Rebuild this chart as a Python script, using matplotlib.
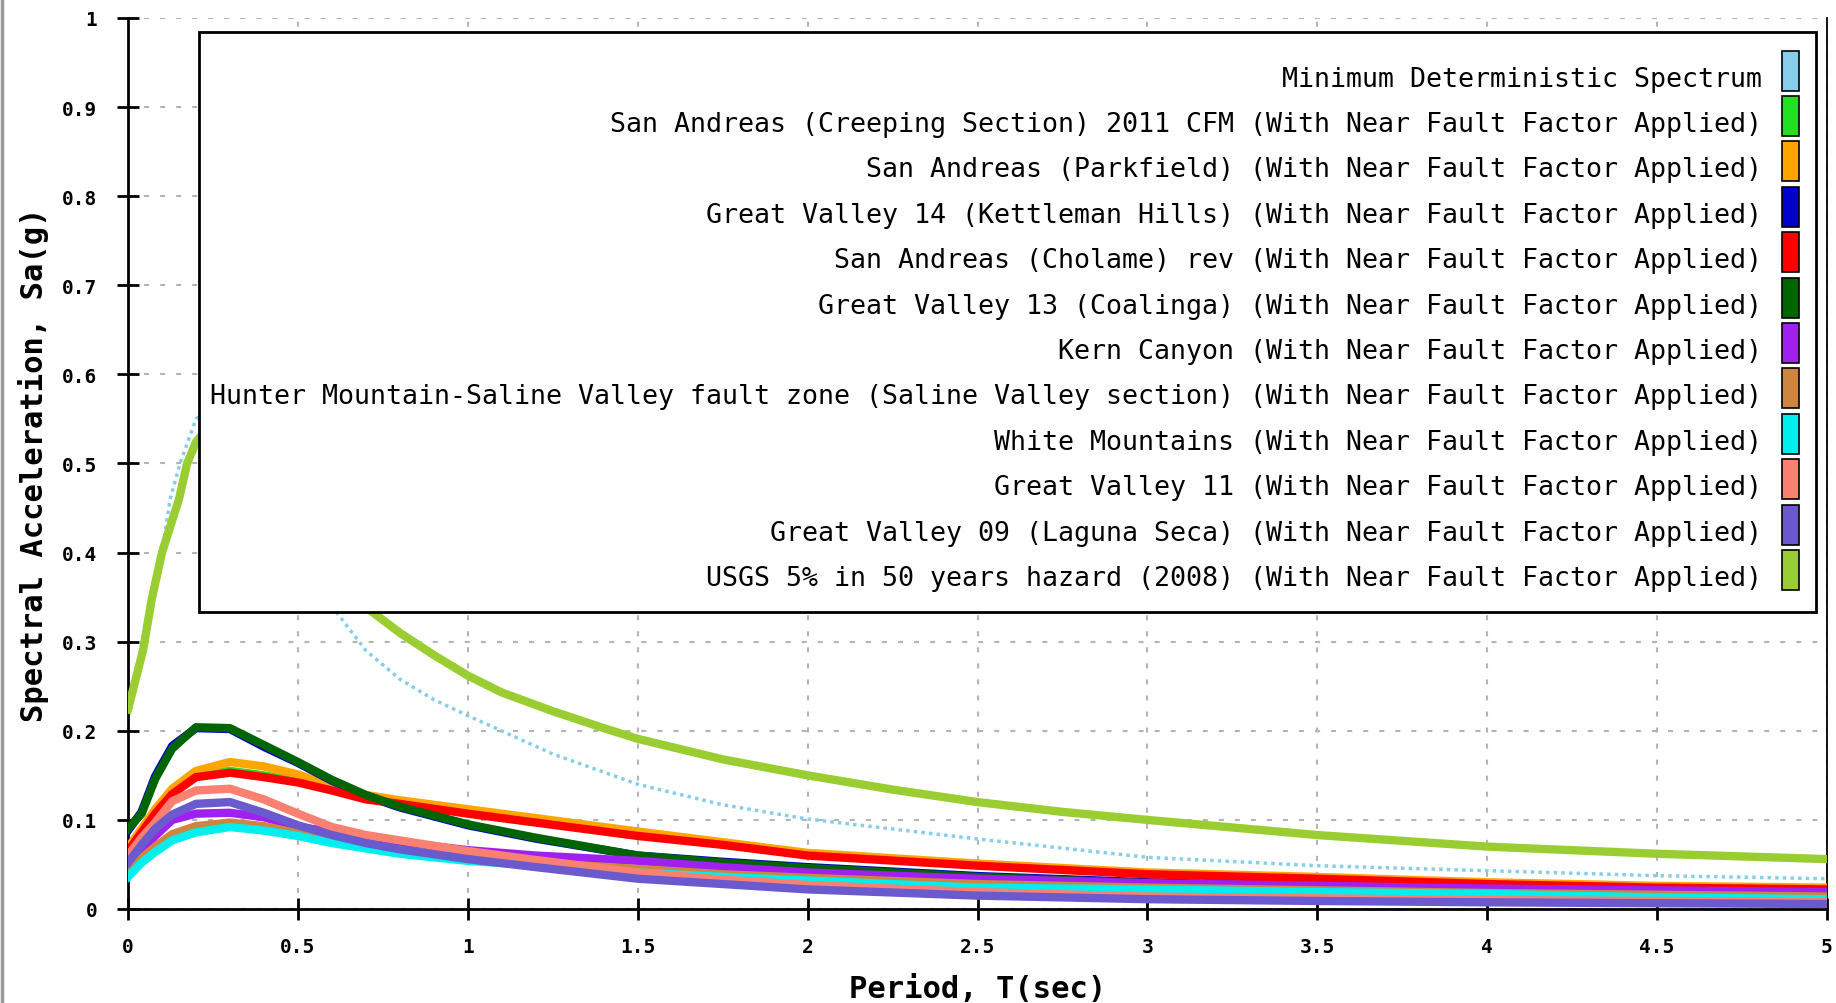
import matplotlib
matplotlib.use('Agg')
import matplotlib.pyplot as plt
from matplotlib.patches import Rectangle
from matplotlib.lines import Line2D
from matplotlib.ticker import FuncFormatter, MultipleLocator

MONO = 'DejaVu Sans Mono'

# legend entries, in drawing order
labels = [
  'Minimum Deterministic Spectrum',
  'San Andreas (Creeping Section) 2011 CFM (With Near Fault Factor Applied)',
  'San Andreas (Parkfield) (With Near Fault Factor Applied)',
  'Great Valley 14 (Kettleman Hills) (With Near Fault Factor Applied)',
  'San Andreas (Cholame) rev (With Near Fault Factor Applied)',
  'Great Valley 13 (Coalinga) (With Near Fault Factor Applied)',
  'Kern Canyon (With Near Fault Factor Applied)',
  'Hunter Mountain-Saline Valley fault zone (Saline Valley section) (With Near Fault Factor Applied)',
  'White Mountains (With Near Fault Factor Applied)',
  'Great Valley 11 (With Near Fault Factor Applied)',
  'Great Valley 09 (Laguna Seca) (With Near Fault Factor Applied)',
  'USGS 5% in 50 years hazard (2008) (With Near Fault Factor Applied)',
]
colors = ['#87CEEB', '#22E022', '#FFA500', '#0000CD', '#FF0000', '#006400',
          '#A020F0', '#CD853F', '#00EEEE', '#FA8072', '#6A5ACD', '#9ACD32']

# minimum deterministic spectrum
mds_period = [0, 0.05, 0.1, 0.124, 0.153, 0.2, 0.3, 0.37, 0.45, 0.53, 0.61,
              0.7, 0.8, 0.9, 1.0, 1.25, 1.5, 1.75, 2.0, 2.5, 3.0, 3.5, 4.0,
              4.5, 5.0]
mds_sa = [0.225, 0.30, 0.40, 0.46, 0.50, 0.55, 0.58, 0.55, 0.45, 0.385, 0.335,
          0.29, 0.258, 0.235, 0.217, 0.174, 0.14, 0.117, 0.101, 0.0786, 0.058,
          0.0486, 0.043, 0.0374, 0.034]

# usgs probabilistic spectrum
usgs_period = [0, 0.044, 0.07, 0.1, 0.15, 0.174, 0.2, 0.3, 0.4, 0.5, 0.6, 0.713,
               0.8, 0.9, 1.0, 1.1, 1.25, 1.4, 1.5, 1.75, 2.0, 2.25, 2.5, 2.75,
               3.0, 3.5, 4.0, 4.5, 5.0]
usgs_sa = [0.224, 0.29, 0.348, 0.40, 0.46, 0.50, 0.524, 0.57, 0.54, 0.46, 0.39,
           0.335, 0.31, 0.285, 0.262, 0.243, 0.222, 0.203, 0.191, 0.168, 0.15,
           0.134, 0.12, 0.109, 0.10, 0.083, 0.07, 0.062, 0.056]

# deterministic fault spectra
period = [0, 0.04, 0.08, 0.13, 0.2, 0.3, 0.4, 0.5, 0.6, 0.7, 0.8, 1.0, 1.2,
          1.5, 1.75, 2.0, 2.5, 3.0, 3.5, 4.0, 4.5, 5.0]
creeping = [0.066, 0.087, 0.108, 0.130, 0.150, 0.155, 0.150, 0.144, 0.135,
            0.125, 0.120, 0.109, 0.099, 0.084, 0.074, 0.062, 0.050, 0.040,
            0.035, 0.029, 0.025, 0.023]
parkfield = [0.069, 0.090, 0.112, 0.135, 0.155, 0.165, 0.160, 0.151, 0.138,
             0.128, 0.122, 0.112, 0.102, 0.087, 0.075, 0.063, 0.051, 0.041,
             0.036, 0.030, 0.026, 0.024]
gv14 = [0.088, 0.109, 0.149, 0.183, 0.203, 0.202, 0.182, 0.164, 0.144, 0.127,
        0.114, 0.094, 0.079, 0.060, 0.053, 0.047, 0.037, 0.030, 0.025, 0.022,
        0.019, 0.017]
cholame = [0.065, 0.086, 0.107, 0.129, 0.148, 0.153, 0.148, 0.142, 0.133,
           0.123, 0.118, 0.107, 0.097, 0.082, 0.072, 0.060, 0.0486, 0.039,
           0.034, 0.028, 0.024, 0.022]
gv13 = [0.090, 0.107, 0.146, 0.180, 0.204, 0.203, 0.184, 0.165, 0.145, 0.128,
        0.115, 0.095, 0.080, 0.060, 0.052, 0.046, 0.036, 0.029, 0.024, 0.021,
        0.018, 0.016]
kern = [0.045, 0.064, 0.082, 0.100, 0.107, 0.108, 0.103, 0.092, 0.087, 0.081,
        0.075, 0.066, 0.060, 0.054, 0.047, 0.041, 0.034, 0.029, 0.026, 0.023,
        0.021, 0.019]
hunter = [0.040, 0.057, 0.070, 0.084, 0.093, 0.097, 0.093, 0.085, 0.078, 0.071,
          0.066, 0.058, 0.052, 0.045, 0.039, 0.035, 0.028, 0.024, 0.021, 0.018,
          0.016, 0.014]
white_mtns = [0.036, 0.052, 0.064, 0.077, 0.086, 0.092, 0.088, 0.082, 0.074,
              0.068, 0.062, 0.054, 0.049, 0.041, 0.036, 0.032, 0.024, 0.022,
              0.019, 0.017, 0.013, 0.011]
gv11 = [0.060, 0.080, 0.097, 0.121, 0.133, 0.135, 0.123, 0.107, 0.092, 0.083,
        0.077, 0.065, 0.055, 0.041, 0.033, 0.027, 0.019, 0.014, 0.012, 0.010,
        0.009, 0.008]
gv09 = [0.052, 0.072, 0.090, 0.106, 0.118, 0.120, 0.108, 0.094, 0.083, 0.074,
        0.067, 0.056, 0.047, 0.034, 0.028, 0.022, 0.015, 0.011, 0.009, 0.0075,
        0.0065, 0.0056]

fault_curves = [creeping, parkfield, gv14, cholame, gv13, kern, hunter,
                white_mtns, gv11, gv09]

W, H = 1836, 1004
fig = plt.figure(figsize=(W / 100, H / 100), dpi=100)
ax = fig.add_axes([128 / W, 1 - 910 / H, 1699 / W, 891 / H])

# curves
ax.plot(mds_period, mds_sa, color=colors[0], linewidth=2.5,
        linestyle=(0, (1, 1.2)), zorder=3)
for vals, col in zip(fault_curves, colors[1:11]):
  ax.plot(period, vals, color=col, linewidth=6, zorder=3)
ax.plot(usgs_period, usgs_sa, color=colors[11], linewidth=6, zorder=3)

ax.set_xlim(0, 5)
ax.set_ylim(0, 1)
ax.xaxis.set_major_locator(MultipleLocator(0.5))
ax.yaxis.set_major_locator(MultipleLocator(0.1))
fmt = FuncFormatter(lambda v, p: '%g' % round(v, 2))
ax.xaxis.set_major_formatter(fmt)
ax.yaxis.set_major_formatter(fmt)

ax.grid(True, color='#b4b4b4', linestyle=(0, (2.4, 5.3)), linewidth=1.5, zorder=1)
ax.set_axisbelow(True)

ax.spines['top'].set_visible(False)
ax.spines['left'].set_linewidth(2)
ax.spines['bottom'].set_linewidth(2)
ax.spines['right'].set_linewidth(1.3)
ax.tick_params(direction='inout', length=16, width=2, colors='black')
ax.tick_params(axis='y', pad=14)
ax.tick_params(axis='x', pad=12)
for lab in ax.get_xticklabels() + ax.get_yticklabels():
  lab.set_fontfamily(MONO)
  lab.set_fontweight('bold')
  lab.set_fontsize(14)

ax.set_xlabel('Period, T(sec)', fontfamily=MONO, fontweight='bold', fontsize=22)
ax.set_ylabel('Spectral Acceleration, Sa(g)', fontfamily=MONO,
              fontweight='bold', fontsize=22)
ax.xaxis.label.set_va('center')
ax.yaxis.label.set_va('center')
ax.xaxis.set_label_coords(0.5, (910 - 990) / 891)
ax.yaxis.set_label_coords((34 - 128) / 1699, 0.5)

# legend box, drawn by hand so the labels sit right-aligned before the swatches
ax.add_patch(Rectangle((0.0418, 0.3333), 0.9935 - 0.0418, 0.9843 - 0.3333,
                       transform=ax.transAxes, facecolor='white',
                       edgecolor='black', linewidth=2, zorder=10, clip_on=False))
row0, pitch, sw_h = 0.9409, 0.05095, 0.0449
for i, (lab, col) in enumerate(zip(labels, colors)):
  yc = row0 - i * pitch
  ax.add_patch(Rectangle((0.9735, yc - sw_h / 2), 0.0100, sw_h,
                         transform=ax.transAxes, facecolor=col,
                         edgecolor='black', linewidth=1.2, zorder=11))
  ax.text(0.9617, yc - 0.0168, lab, transform=ax.transAxes, ha='right',
          va='baseline', fontfamily=MONO, fontsize=19.15, zorder=11)

# grey frame at the left edge of the image
fig.add_artist(Line2D([2 / W, 2 / W], [0, 1], transform=fig.transFigure,
                      color='#9a9a9a', linewidth=2.5))

fig.savefig('out.png', dpi=100, facecolor='white')
